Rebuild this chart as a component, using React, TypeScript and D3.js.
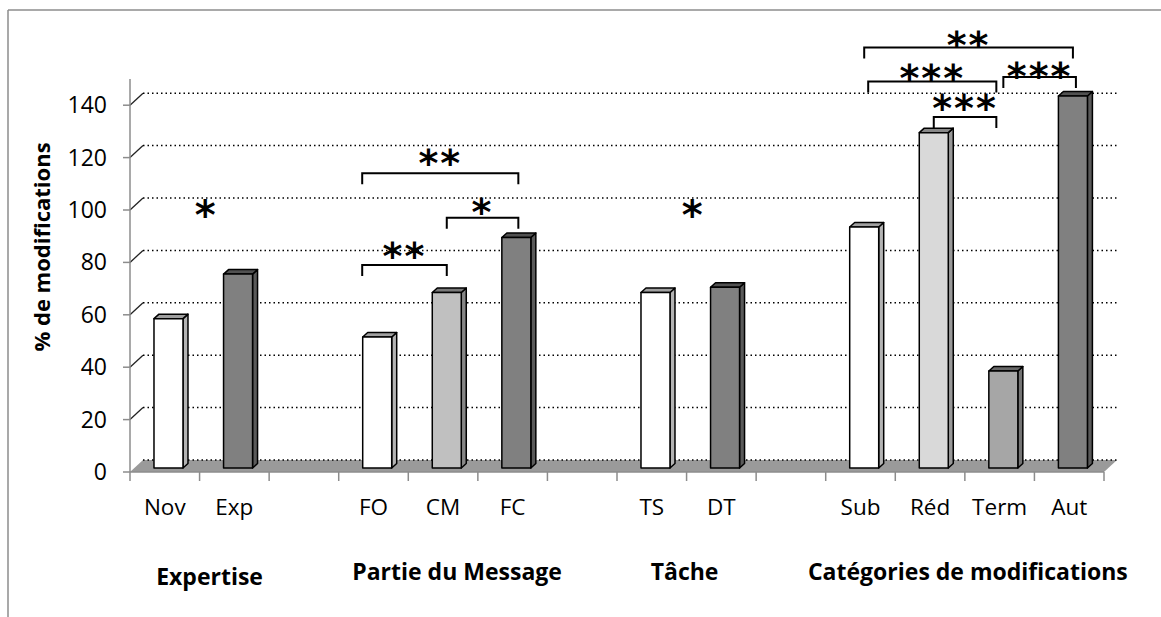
import React from "react";
import * as d3 from "d3";

// ---------- data ----------
const categories = ["Nov", "Exp", "", "FO", "CM", "FC", "", "TS", "DT", "", "Sub", "Réd", "Term", "Aut"];
const values: (number | null)[] = [57, 74, null, 50, 67, 88, null, 67, 69, null, 92, 128, 37, 142];
const barColors = ["#ffffff", "#808080", "", "#ffffff", "#c0c0c0", "#808080", "", "#ffffff", "#808080", "", "#ffffff", "#d9d9d9", "#a6a6a6", "#808080"];
const yTicks = [0, 20, 40, 60, 80, 100, 120, 140];
const groupNames = ["Expertise", "Partie du Message", "Tâche", "Catégories de modifications"];
const groupMembers = [[0, 1], [3, 4, 5], [7, 8], [10, 11, 12, 13]];
const groupNudge = [10, 14, -2, 3];
// brackets: [fromIndex, toIndex, level (value units), label]
const brackets: [number, number, number, string][] = [
  [3, 4, 79, "**"],
  [4, 5, 97, "*"],
  [3, 5, 114, "**"],
  [10, 13, 162, "**"],
  [10, 12, 149, "***"],
  [11, 12, 135.5, "***"],
  [12, 13, 150.8, "***"],
];
const bracketNudge: [number, number][] = [[-15, 0], [0, 2], [-15, 2], [0, 0], [4, -7], [0, -7], [0, 3]];
const starGap = [15, 12, 16, 9, 10, 15, 7];
// standalone stars: [between index a, index b, level, label]
const stars: [number, number, number, string][] = [
  [0, 1, 100, "*"],
  [7, 8, 100, "*"],
];

// ---------- layout ----------
const W = 1161, H = 617;
const x0 = 130, x1 = 1104;
const yBase = 472, yTopPx = 79;
const DX = 13, DY = -12; // floor depth
const BO = [3.7, -4]; // bar front-face offset
const BD = [5, -4.5]; // bar depth
const FONT = "'Open Sans', 'DejaVu Sans', sans-serif";
const STARFONT = "'DejaVu Sans', sans-serif";
const STAR_BASE = 19;

export default function App() {
  const x = d3.scaleBand<number>().domain(d3.range(categories.length)).range([x0, x1]).padding(0);
  const y = d3.scaleLinear().domain([0, 150]).range([yBase, yTopPx]);
  const bw = 29;
  const cx = (i: number) => (x(i) as number) + x.bandwidth() / 2;
  const bcx = (i: number) => cx(i) + BO[0];
  const dotted = "1.5 3";
  const axisGray = "#8c8c8c";

  return (
    <svg width={W} height={H} style={{ position: "absolute", left: 0, top: 0, background: "#fff" }}>
      {/* frame */}
      <line x1={8} y1={10} x2={W} y2={10} stroke={axisGray} strokeWidth={1.5} />
      <line x1={8} y1={10} x2={8} y2={H} stroke={axisGray} strokeWidth={1.5} />

      {/* floor */}
      <polygon
        points={`${x0},${yBase} ${x1},${yBase} ${x1 + DX},${yBase + DY} ${x0 + DX},${yBase + DY}`}
        fill="#9a9a9a"
      />

      {/* gridlines */}
      {yTicks.map((t) => (
        <g key={t}>
          {t > 0 && (
            <line x1={x0} y1={y(t)} x2={x0 + DX} y2={y(t) + DY} stroke="#222" strokeWidth={1.3} />
          )}
          <line
            x1={x0 + DX}
            y1={y(t) + DY}
            x2={x1 + DX}
            y2={y(t) + DY}
            stroke="#000"
            strokeWidth={1.5}
            strokeDasharray={dotted}
          />
        </g>
      ))}

      {/* y axis */}
      <line x1={x0} y1={yTopPx} x2={x0} y2={yBase} stroke={axisGray} strokeWidth={1.5} />
      {yTicks.map((t) => (
        <g key={"yt" + t}>
          <line x1={x0 - 7} y1={y(t)} x2={x0} y2={y(t)} stroke={axisGray} strokeWidth={1.5} />
          <text x={x0 - 23} y={y(t) + 8} textAnchor="end" fontFamily={FONT} fontSize={23} fill="#000">
            {t}
          </text>
        </g>
      ))}

      {/* x axis */}
      <line x1={x0} y1={yBase} x2={x1} y2={yBase} stroke={axisGray} strokeWidth={1.5} />
      {d3.range(categories.length + 1).map((i) => {
        const xx = i < categories.length ? (x(i) as number) : x1;
        return <line key={"xt" + i} x1={xx} y1={yBase} x2={xx} y2={yBase + 9} stroke={axisGray} strokeWidth={1.5} />;
      })}
      {categories.map((c, i) =>
        c ? (
          <text key={"xl" + i} x={cx(i)} y={515} textAnchor="middle" fontFamily={FONT} fontSize={22.5} fill="#000">
            {c}
          </text>
        ) : null
      )}

      {/* bars */}
      {values.map((v, i) => {
        if (v == null) return null;
        const fill = barColors[i];
        const side = d3.rgb(fill).darker(1.0).formatHex();
        const top = d3.rgb(fill).darker(1.3).formatHex();
        const xl = bcx(i) - bw / 2;
        const xr = xl + bw;
        const base = yBase + BO[1];
        const yt = y(v) + BO[1];
        return (
          <g key={"b" + i} stroke="#000" strokeWidth={1.5} strokeLinejoin="round">
            <polygon
              points={`${xr},${yt} ${xr + BD[0]},${yt + BD[1]} ${xr + BD[0]},${base + BD[1]} ${xr},${base}`}
              fill={side}
            />
            <polygon
              points={`${xl},${yt} ${xl + BD[0]},${yt + BD[1]} ${xr + BD[0]},${yt + BD[1]} ${xr},${yt}`}
              fill={top}
            />
            <rect x={xl} y={yt} width={bw} height={base - yt} fill={fill} />
          </g>
        );
      })}

      {/* brackets */}
      {brackets.map(([a, b, lvl, lab], k) => {
        const xa = bcx(a) + bracketNudge[k][0];
        const xb = bcx(b) + bracketNudge[k][1];
        const yy = y(lvl);
        const leg = 11;
        return (
          <g key={"br" + k}>
            <path
              d={`M${xa},${yy + leg} L${xa},${yy} L${xb},${yy} L${xb},${yy + leg}`}
              fill="none"
              stroke="#000"
              strokeWidth={2}
            />
            <text
              x={(xa + xb) / 2}
              y={yy - starGap[k] + STAR_BASE}
              textAnchor="middle"
              fontFamily={STARFONT}
              fontWeight="bold"
              fontSize={38}
              letterSpacing={2}
              fill="#000"
            >
              {lab}
            </text>
          </g>
        );
      })}
      {stars.map(([a, b, lvl, lab], k) => (
        <text
          key={"st" + k}
          x={(bcx(a) + bcx(b)) / 2 + 2}
          y={y(lvl) + STAR_BASE}
          textAnchor="middle"
          fontFamily={STARFONT}
          fontWeight="bold"
          fontSize={40}
          fill="#000"
        >
          {lab}
        </text>
      ))}

      {/* group labels */}
      {groupNames.map((g, k) => {
        const m = d3.mean(groupMembers[k], (i) => cx(i)) as number;
        return (
          <text
            key={"g" + k}
            x={m + groupNudge[k]}
            y={k === 0 ? 585 : 580}
            textAnchor="middle"
            fontFamily={FONT}
            fontWeight="bold"
            fontSize={23}
            fill="#000"
          >
            {g}
          </text>
        );
      })}

      {/* y title */}
      <text
        transform={`translate(50,247) rotate(-90)`}
        textAnchor="middle"
        fontFamily={FONT}
        fontWeight="bold"
        fontSize={22}
        fill="#000"
      >
        % de modifications
      </text>
    </svg>
  );
}
